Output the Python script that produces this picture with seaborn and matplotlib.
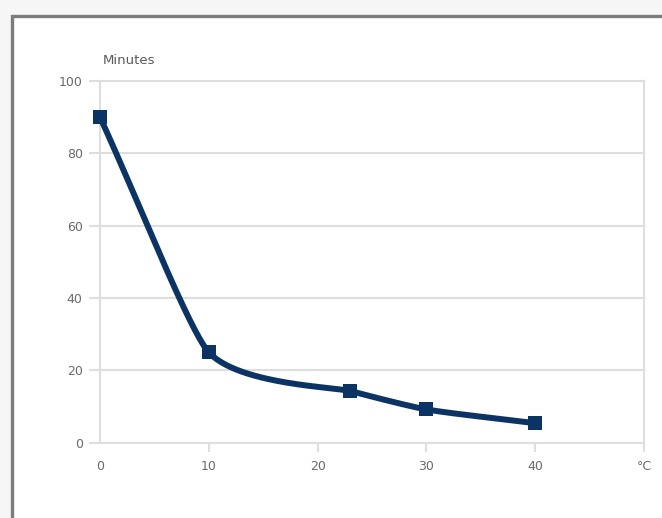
import numpy as np
import pandas as pd
import seaborn as sns
import matplotlib.pyplot as plt
from matplotlib.patches import Rectangle

# data
temp_c = [0, 10, 23, 30, 40]
minutes = [90, 25, 14.3, 9.2, 5.4]
x_ticks = [0, 10, 20, 30, 40, 50]
x_labels = ['0', '10', '20', '30', '40', '°C']
y_ticks = [0, 20, 40, 60, 80, 100]

navy = '#0b3465'
grid_gray = '#dedede'
text_gray = '#6a6a6a'


def smooth_curve(x, y, sx, sy, n=80):
    # bezier pieces through the points, worked out in screen units
    P = np.column_stack([np.asarray(x, float) * sx, np.asarray(y, float) * sy])
    seg = np.linalg.norm(np.diff(P, axis=0), axis=1)
    m = len(P)
    tang = np.zeros_like(P)
    for i in range(1, m - 1):
        v = P[i + 1] - P[i - 1]
        tang[i] = v / np.linalg.norm(v)
    out = []
    for i in range(m - 1):
        if i > 0:
            c1 = P[i] + tang[i] * 0.3 * min(seg[i - 1], seg[i])
        else:
            c1 = P[i] + (P[i + 1] - P[i]) / 3
        if i + 1 < m - 1:
            c2 = P[i + 1] - tang[i + 1] * 0.2 * min(seg[i], seg[i + 1])
        else:
            c2 = P[i + 1] - (P[i + 1] - P[i]) / 3
        t = np.linspace(0, 1, n)[:, None]
        pts = (1 - t)**3 * P[i] + 3 * (1 - t)**2 * t * c1 + 3 * (1 - t) * t**2 * c2 + t**3 * P[i + 1]
        out.append(pts if i == 0 else pts[1:])
    pts = np.vstack(out)
    return pts[:, 0] / sx, pts[:, 1] / sy


df = pd.DataFrame({'temp': temp_c, 'minutes': minutes})

sns.set_style('white')
plt.rcParams['font.family'] = ['DejaVu Sans']

fig = plt.figure(figsize=(6.62, 5.18), dpi=100)
fig.patch.set_facecolor('#f6f6f6')
# screenshot frame
fig.patches.append(Rectangle((12 / 662, -0.1), 1.2, 1.1 - 16 / 518, transform=fig.transFigure,
                             facecolor='white', edgecolor='#7c7c7c', linewidth=2.4, zorder=-5))

ax_w, ax_h = 544, 442.7 - 81
ax = fig.add_axes([100 / 662, 1 - 442.7 / 518, ax_w / 662, ax_h / 518])
ax.set_zorder(5)
ax.set_facecolor('white')

xs, ys = smooth_curve(df['temp'], df['minutes'], ax_w / 50, ax_h / 100)
curve = pd.DataFrame({'temp': xs, 'minutes': ys})

sns.lineplot(data=curve, x='temp', y='minutes', ax=ax, color=navy, linewidth=4.3, sort=False,
             estimator=None, solid_capstyle='round', solid_joinstyle='round', zorder=3, clip_on=False)
sns.scatterplot(data=df, x='temp', y='minutes', ax=ax, marker='s', s=95, color=navy,
                edgecolor=navy, linewidth=0, zorder=4, clip_on=False)

ax.set_xlim(0, 50)
ax.set_ylim(0, 100)
ax.set_xticks(x_ticks)
ax.set_xticklabels(x_labels)
ax.set_yticks(y_ticks)
ax.set_xlabel('')
ax.set_ylabel('')

ax.grid(axis='y', color=grid_gray, linewidth=1.5)
ax.set_axisbelow(True)
for s in ax.spines.values():
    s.set_visible(True)
    s.set_color(grid_gray)
    s.set_linewidth(1.5)

ax.tick_params(axis='x', direction='out', length=6.5, width=1.5, color=grid_gray,
               labelcolor=text_gray, labelsize=9, pad=6, bottom=True)
ax.tick_params(axis='y', direction='out', length=8, width=1.5, color=grid_gray,
               labelcolor=text_gray, labelsize=9, pad=4.5, left=True)
ax.xaxis.get_major_ticks()[0].tick1line.set_visible(False)

fig.text(129 / 662, 1 - 60 / 518, 'Minutes', ha='center', va='center', fontsize=9.5,
         color='#5a5a5a', zorder=6)

plt.savefig('out.png', dpi=100)
